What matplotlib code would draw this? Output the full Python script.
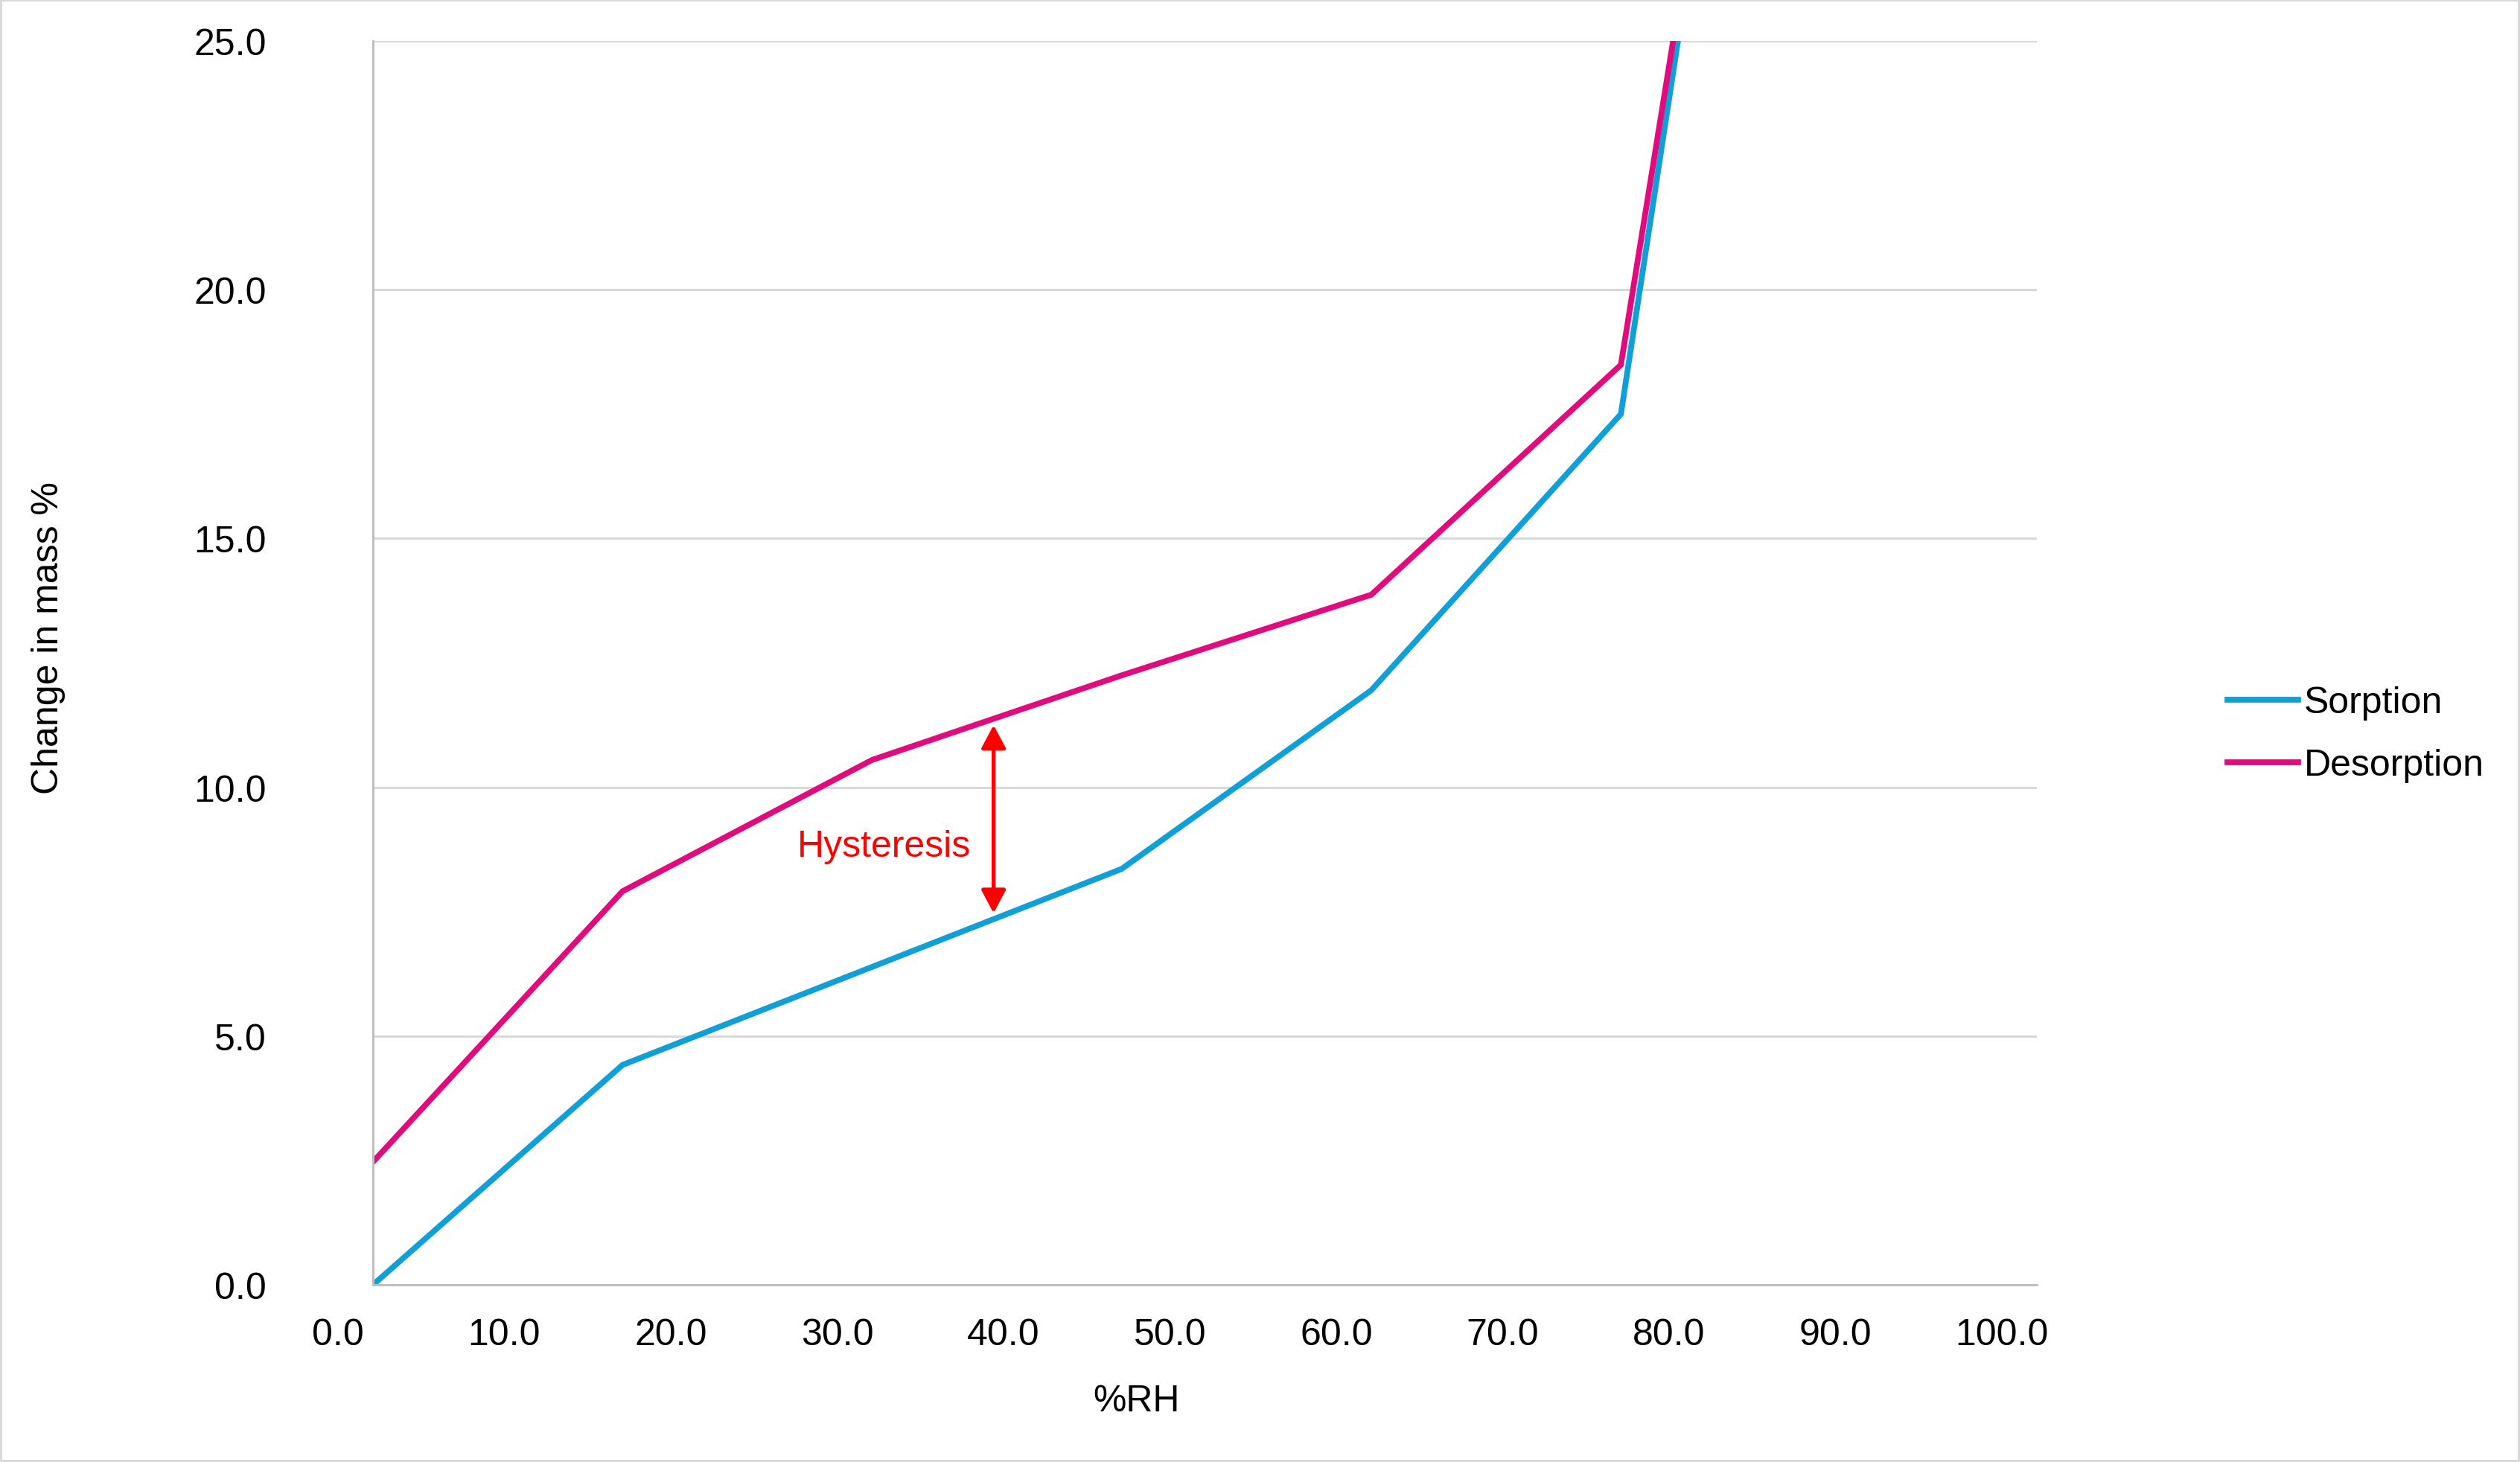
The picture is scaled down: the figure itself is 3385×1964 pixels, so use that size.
import matplotlib
matplotlib.use("Agg")
import matplotlib.pyplot as plt
import matplotlib.transforms as mtransforms
from matplotlib.patches import Rectangle

plt.rcParams['font.family'] = ['Liberation Sans', 'DejaVu Sans']

# ---- data ----
rh = [0, 15, 30, 45, 60, 75, 90]
sorption = [0.0, 4.42, 6.39, 8.36, 11.95, 17.50, 50.3]
desorption = [2.47, 7.91, 10.55, 12.25, 13.87, 18.49, 49.6]
x_ticks = [0, 10, 20, 30, 40, 50, 60, 70, 80, 90, 100]
y_ticks = [0, 5, 10, 15, 20, 25]
series_names = ["Sorption", "Desorption"]
annotation_text = "Hysteresis"
hyst_x = 37.3
hyst_low, hyst_high = 7.47, 11.25

W, H = 3385, 1965
DPI = 100
fig = plt.figure(figsize=(W / DPI, H / DPI), dpi=DPI)
fig.patch.set_facecolor("white")

L, R, T, B = 501, 2736, 56, 1727
ax = fig.add_axes([L / W, 1 - B / H, (R - L) / W, (B - T) / H])

FS = 36
C_SORP = "#119FD7"
C_DES = "#E20B7E"

ax.plot(rh, sorption, color=C_SORP, lw=5.6, label=series_names[0],
        solid_joinstyle="miter", zorder=3)
ax.plot(rh, desorption, color=C_DES, lw=5.6, label=series_names[1],
        solid_joinstyle="miter", zorder=3)

ax.set_xlim(0, 100)
ax.set_ylim(0, 25)
ax.set_xticks(x_ticks)
ax.set_xticklabels([f"{v:.1f}" for v in x_ticks])
ax.set_yticks(y_ticks)
ax.set_yticklabels([f"{v:.1f}" for v in y_ticks])

ax.tick_params(axis="both", length=0, labelsize=FS, colors="black")
ax.tick_params(axis="y", pad=103)
ax.tick_params(axis="x", pad=32)

# shift x tick labels left as in reference
offset = mtransforms.ScaledTranslation(-47 / DPI, 0, fig.dpi_scale_trans)
for lab in ax.get_xticklabels():
    lab.set_transform(lab.get_transform() + offset)

ax.yaxis.grid(True, color="#D9D9D9", lw=2.2)
ax.xaxis.grid(False)
ax.set_axisbelow(True)
for s in ["top", "right"]:
    ax.spines[s].set_visible(False)
for s in ["left", "bottom"]:
    ax.spines[s].set_color("#BFBFBF")
    ax.spines[s].set_linewidth(2.2)
    ax.spines[s].set_zorder(4)

# hysteresis annotation
ax.annotate("", xy=(hyst_x, hyst_high), xytext=(hyst_x, hyst_low),
            arrowprops=dict(arrowstyle="<|-|>,head_length=0.94,head_width=0.5",
                            color="#FF0000", lw=3.8, shrinkA=0, shrinkB=0,
                            mutation_scale=20), zorder=5)
ax.text(30.7, 8.62, annotation_text, color="#FF0000", fontsize=FS,
        ha="center", va="baseline", zorder=5)

# axis titles
fig.text(1526 / W, 1 - 1883 / H, "%RH", fontsize=FS, ha="center", va="center")
fig.text(65 / W, 1 - 857 / H, "Change in mass %", fontsize=FS, rotation=90,
         ha="center", va="center")

# legend
leg = ax.legend(loc="center left", bbox_to_anchor=(2992 / W, 1 - 987 / H),
                bbox_transform=fig.transFigure, frameon=False, fontsize=FS,
                handlelength=1.9, handletextpad=0.16, labelspacing=0.76,
                borderpad=0, borderaxespad=0)

# figure border
fig.patches.append(Rectangle((0, 0), 1, 1, transform=fig.transFigure,
                             fill=False, edgecolor="#D9D9D9", lw=4.3,
                             zorder=10))

fig.savefig("out.png", dpi=DPI)
